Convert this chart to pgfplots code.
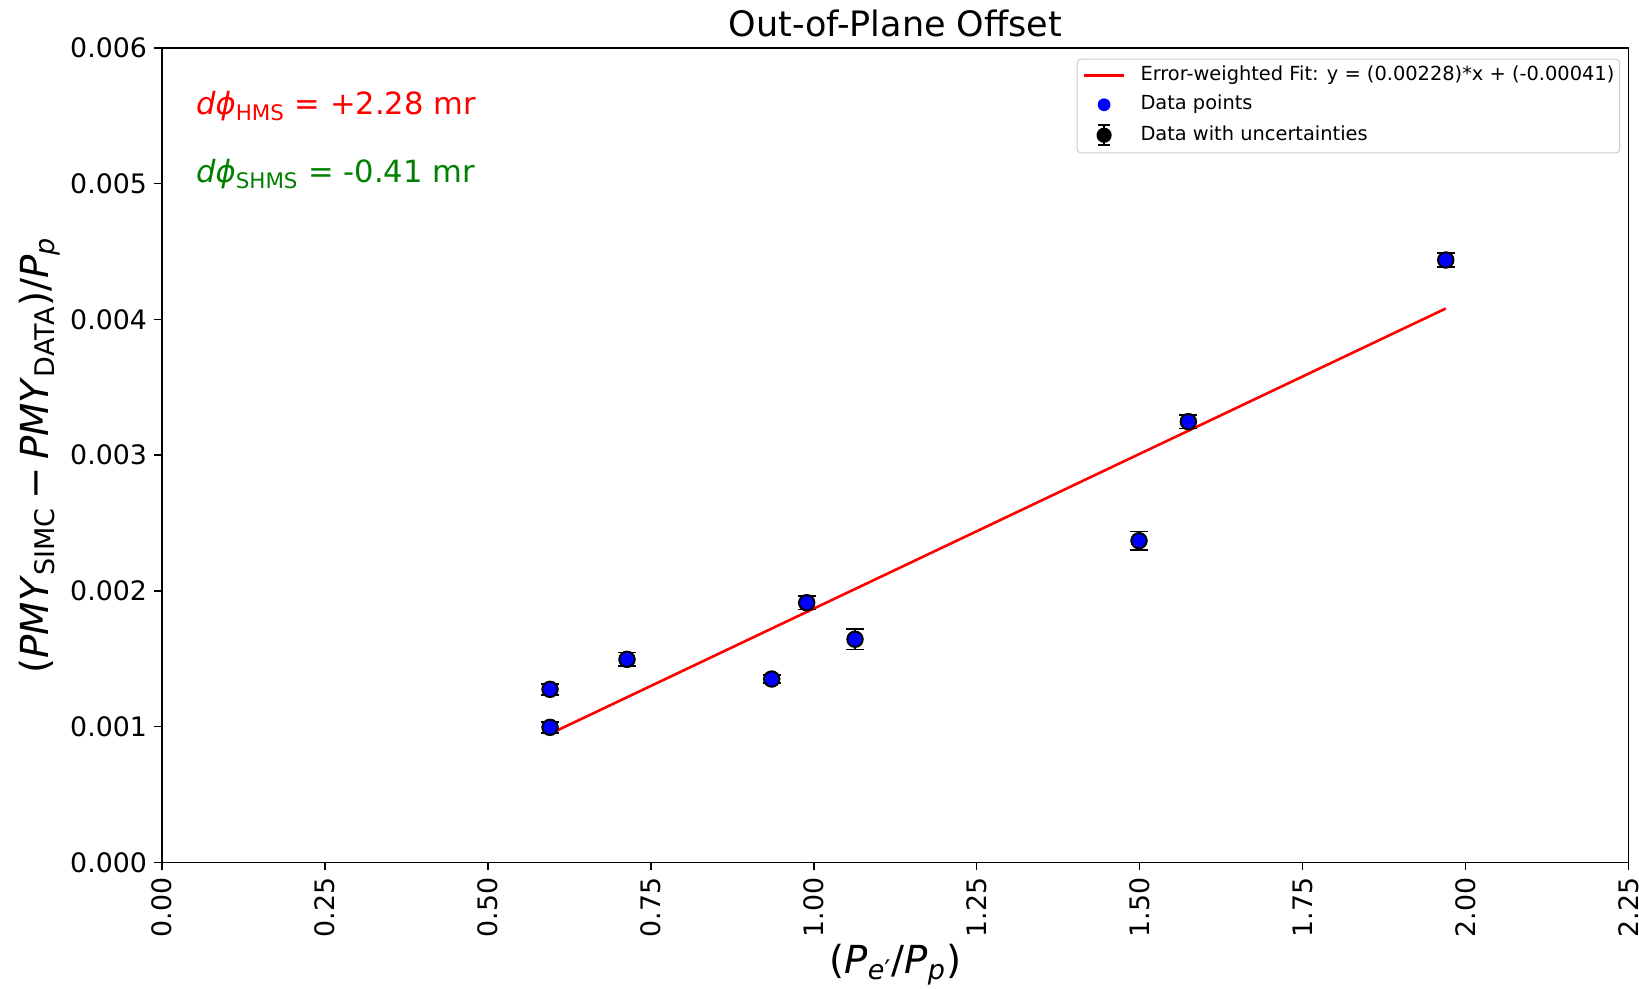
\documentclass[border=0pt]{standalone}
\usepackage{fontspec}
\setmainfont{DejaVu Sans}
\usepackage{pgfplots}
\pgfplotsset{compat=1.18}
\usepackage{pgfplotstable}

\pgfplotstableread{
x y ey
0.5953 0.000995 0.00004
0.5953 0.001275 0.00004
0.7134 0.001496 0.00005
0.9354 0.001351 0.00003
0.9891 0.001913 0.00005
1.0632 0.001644 0.000077
1.4989 0.002370 0.000069
1.5746 0.003247 0.00005
1.9695 0.004438 0.00005
}\datatable

\pgfplotstableread{
x y
0.5953 0.0009473
1.9695 0.0040805
}\fittable

\definecolor{mgreen}{HTML}{008000}

\begin{document}
\begin{tikzpicture}
\useasboundingbox (-81pt,-63.3pt) rectangle (738.5pt,431.2pt);
\begin{axis}[
  scale only axis,
  width=733.3pt, height=407.2pt,
  xmin=0, xmax=2.25, ymin=0, ymax=0.006,
  xtick={0,0.25,...,2.25},
  ytick={0,0.001,0.002,0.003,0.004,0.005,0.006},
  scaled y ticks=false, scaled x ticks=false,
  xtick pos=bottom, ytick pos=left,
  tick align=outside,
  major tick length=4pt,
  every tick/.style={black, line width=0.7pt},
  axis line style={line width=0.7pt},
  /pgf/number format/assume math mode=true,
  xticklabel style={font=\fontsize{13.4}{15}\selectfont, rotate=90, anchor=east, /pgf/number format/.cd, fixed, fixed zerofill, precision=2},
  yticklabel style={font=\fontsize{13.4}{15}\selectfont, /pgf/number format/.cd, fixed, fixed zerofill, precision=3},
  every axis title shift=0pt,
  title={Out-of-Plane Offset},
  title style={font=\fontsize{17.5}{20}\selectfont, at={(axis description cs:0.5,1)}, anchor=base, yshift=5.7pt},
  xlabel={(\textit{P}\textsubscript{\textit{e}′}/\textit{P}\textsubscript{\textit{p}})},
  xlabel style={font=\fontsize{19.3}{22}\selectfont, at={(axis description cs:0.5,0)}, anchor=center, yshift=-51pt},
  ylabel={(\textit{PMY}\textsubscript{SIMC}\hspace{0.2em}−\hspace{0.2em}\textit{PMY}\textsubscript{DATA})/\textit{P}\textsubscript{\textit{p}}},
  ylabel style={font=\fontsize{19.3}{22}\selectfont, at={(axis description cs:0,0.5)}, anchor=center, yshift=61pt},
  legend style={at={(0.9943,0.987)}, anchor=north east, font=\fontsize{9.7}{11}\selectfont,
    draw=black!20, line width=0.5pt, rounded corners=2pt, inner xsep=2.65pt, inner ysep=3.5pt,
    nodes={inner sep=0pt, text height=7.3pt, text depth=2.2pt},
    row sep=5.1pt, column sep=7.85pt},
  legend cell align=left,
]
\addplot[red, line width=1.3pt, legend image code/.code={\draw[red, line width=1.3pt] (0pt,0pt) -- (19.9pt,0pt);}] table[x=x,y=y] {\fittable};
\addlegendentry{Error-weighted Fit: y = (0.00228)*x + (-0.00041)}

\addplot[forget plot, only marks, mark=*, mark size=4.15pt, mark options={black, fill=black},
  error bars/.cd, y dir=both, y explicit,
  error bar style={black, line width=0.75pt},
  error mark options={rotate=90, mark size=4.5pt, line width=0.75pt, black}]
  table[x=x, y=y, y error=ey] {\datatable};

\addplot[only marks, mark=*, mark size=3.55pt, mark options={draw=none, fill=blue},
  legend image code/.code={\path[draw=none, fill=none] (0pt,0pt) -- (19.9pt,0pt); \fill[blue, draw=none] (10.2pt,0pt) circle (3.2pt);}] table[x=x,y=y] {\datatable};
\addlegendentry{Data points}

\addlegendimage{legend image code/.code={
  \path[draw=none, fill=none] (0pt,0pt) -- (19.9pt,0pt);
  \draw[black, line width=0.75pt] (10.2pt,-5pt) -- (10.2pt,5pt);
  \draw[black, line width=0.75pt] (7.2pt,5pt) -- (13.2pt,5pt);
  \draw[black, line width=0.75pt] (7.2pt,-5pt) -- (13.2pt,-5pt);
  \fill[black, draw=none] (10.2pt,0pt) circle (3.8pt);}}
\addlegendentry{Data with uncertainties}

\node[anchor=base west, text=red, font=\fontsize{15.3}{18}\selectfont] at (rel axis cs:0.0185,0.918)
  {\textit{dϕ}\textsubscript{HMS} = +2.28 mr};
\node[anchor=base west, text=mgreen, font=\fontsize{15.3}{18}\selectfont] at (rel axis cs:0.0185,0.835)
  {\textit{dϕ}\textsubscript{SHMS} = -0.41 mr};
\end{axis}
\end{tikzpicture}
\end{document}
